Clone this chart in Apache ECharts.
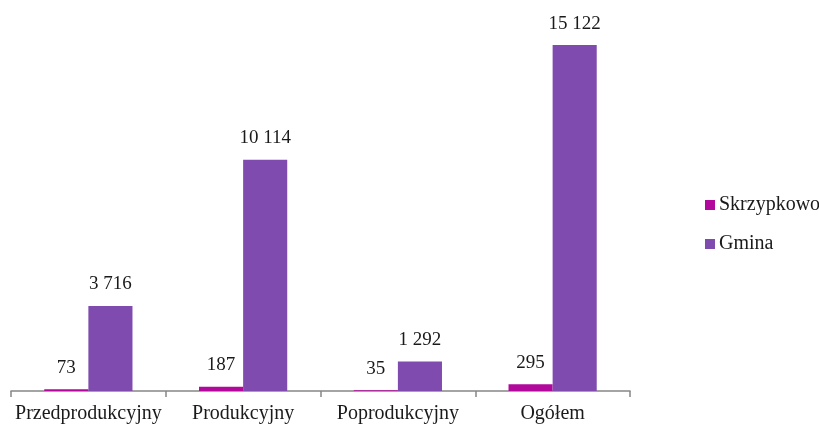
<!DOCTYPE html>
<html><head><meta charset="utf-8">
<script src="https://cdn.jsdelivr.net/npm/echarts@6/dist/echarts.min.js"></script>
<style>html,body{margin:0;padding:0;background:#fff}#c{width:819px;height:427px}</style>
</head><body><div id="c"></div>
<script>
const categories = ['Przedprodukcyjny', 'Produkcyjny', 'Poprodukcyjny', 'Ogółem'];
const seriesNames = ['Skrzypkowo', 'Gmina'];
const skrzypkowo = [73, 187, 35, 295];
const gmina = [3716, 10114, 1292, 15122];
const colors = ['#B2089C', '#7F4BAF'];

function fmt(v){ return String(v).replace(/\B(?=(\d{3})+(?!\d))/g, ' '); }
const FONT = 'Liberation Serif';
const chart = echarts.init(document.getElementById('c'));
const mk = (name, data, color) => ({
  name, type: 'bar', data, barGap: '0%', barCategoryGap: '43%',
  itemStyle: { color },
  label: { show: true, position: 'top', distance: 12, color: '#1a1a1a', fontFamily: FONT, fontSize: 19,
    formatter: p => fmt(p.value) }
});
chart.setOption({
  animation: false,
  grid: { left: 11, right: 189, top: 25, bottom: 36 },
  legend: {
    orient: 'vertical', left: 700, top: 190, itemGap: 19, itemWidth: 10, itemHeight: 10, icon: 'rect',
    textStyle: { fontFamily: FONT, fontSize: 20, color: '#1a1a1a', padding: [0, 0, 0, -1] },
    data: seriesNames
  },
  xAxis: {
    type: 'category', data: categories,
    axisLine: { lineStyle: { color: '#868686', width: 1.5 } },
    axisTick: { show: true, length: 6, lineStyle: { color: '#868686', width: 1.5 } },
    axisLabel: { fontFamily: FONT, fontSize: 20, color: '#1a1a1a', margin: 13, interval: 0 }
  },
  yAxis: { type: 'value', min: 0, max: 16000, show: false, splitLine: { show: false } },
  series: [mk(seriesNames[0], skrzypkowo, colors[0]), mk(seriesNames[1], gmina, colors[1])]
});
</script></body></html>
